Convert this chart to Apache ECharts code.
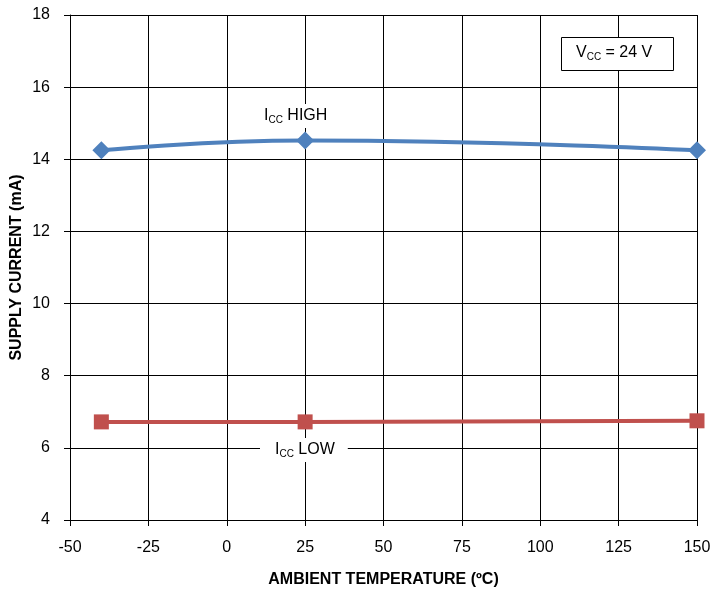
<!DOCTYPE html>
<html>
<head>
<meta charset="utf-8">
<script src="https://cdn.jsdelivr.net/npm/echarts@6/dist/echarts.min.js"></script>
<style>
  html, body { margin: 0; padding: 0; background: #fff; }
  #chart { width: 710px; height: 591px; }
</style>
</head>
<body>
<div id="chart"></div>
<script>
// data
var temps = [-40, 25, 150];
var iccHigh = [14.25, 14.52, 14.25];
var iccLow = [6.72, 6.72, 6.75];

function pairs(xs, ys) {
  return xs.map(function (x, i) { return [x, ys[i]]; });
}

var chart = echarts.init(document.getElementById('chart'));

var font = 'Liberation Sans, Arial';
var sub = {
  n: { fontSize: 16, color: '#000', fontFamily: font },
  s: { fontSize: 10, color: '#000', fontFamily: font, verticalAlign: 'bottom', padding: [8, 0, 0, 0] }
};

var option = {
  animation: false,
  backgroundColor: '#fff',
  grid: { left: 70, right: 13, top: 15, bottom: 71, outerBoundsMode: 'none', containLabel: false },
  xAxis: {
    type: 'value',
    min: -50, max: 150, interval: 25,
    name: 'AMBIENT TEMPERATURE (ºC)',
    nameLocation: 'middle', nameGap: 52, nameMoveOverlap: false,
    nameTextStyle: { fontSize: 16, fontWeight: 'bold', color: '#000', fontFamily: font },
    axisLine: { onZero: false, lineStyle: { color: '#000', width: 1 } },
    axisTick: { length: 6, lineStyle: { color: '#000' } },
    axisLabel: { fontSize: 16, color: '#000', margin: 20, fontFamily: font },
    splitLine: { show: true, lineStyle: { color: '#000', width: 1 } }
  },
  yAxis: {
    type: 'value',
    min: 4, max: 18, interval: 2,
    name: 'SUPPLY CURRENT (mA)',
    nameLocation: 'middle', nameGap: 45, nameMoveOverlap: false,
    nameTextStyle: { fontSize: 16, fontWeight: 'bold', color: '#000', fontFamily: font },
    axisLine: { show: true, onZero: false, lineStyle: { color: '#000', width: 1 } },
    axisTick: { show: true, length: 6, lineStyle: { color: '#000' } },
    axisLabel: { fontSize: 16, color: '#000', margin: 20, fontFamily: font },
    splitLine: { show: true, lineStyle: { color: '#000', width: 1 } }
  },
  series: [
    {
      name: 'ICC HIGH',
      type: 'line',
      data: pairs(temps, iccHigh),
      smooth: 0.5,
      symbol: 'diamond',
      symbolSize: 18,
      lineStyle: { color: '#4F81BD', width: 4 },
      itemStyle: { color: '#4F81BD' },
      z: 5
    },
    {
      name: 'ICC LOW',
      type: 'line',
      data: pairs(temps, iccLow),
      smooth: 0.5,
      symbol: 'rect',
      symbolSize: 15,
      lineStyle: { color: '#C0504D', width: 4 },
      itemStyle: { color: '#C0504D' },
      z: 5
    }
  ],
  graphic: [
    {
      type: 'text', left: 258, top: 104, z: 10,
      style: {
        text: '{n|I}{s|CC}{n| HIGH}', rich: sub,
        backgroundColor: '#fff', padding: [3, 6, 3, 6]
      }
    },
    {
      type: 'text', left: 260, top: 438, z: 10,
      style: {
        text: '{n|I}{s|CC}{n| LOW}', rich: sub,
        backgroundColor: '#fff', padding: [3, 13, 3, 15]
      }
    },
    {
      type: 'rect', left: 561, top: 37, z: 10,
      shape: { width: 112, height: 33 },
      style: { fill: '#fff', stroke: '#000', lineWidth: 1 }
    },
    {
      type: 'text', left: 576, top: 45, z: 11,
      style: { text: '{n|V}{s|CC}{n| = 24 V}', rich: sub }
    }
  ]
};

chart.setOption(option);
</script>
</body>
</html>
